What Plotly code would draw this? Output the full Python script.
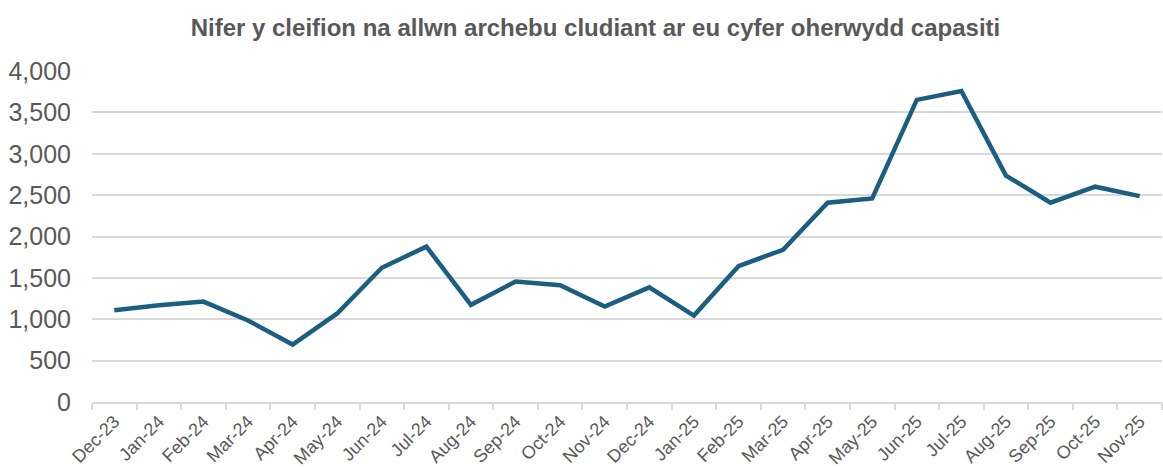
import plotly.graph_objects as go

title = "Nifer y cleifion na allwn archebu cludiant ar eu cyfer oherwydd capasiti"
months = ["Dec-23", "Jan-24", "Feb-24", "Mar-24", "Apr-24", "May-24", "Jun-24", "Jul-24",
          "Aug-24", "Sep-24", "Oct-24", "Nov-24", "Dec-24", "Jan-25", "Feb-25", "Mar-25",
          "Apr-25", "May-25", "Jun-25", "Jul-25", "Aug-25", "Sep-25", "Oct-25", "Nov-25"]
patients = [1110, 1170, 1213, 985, 695, 1070, 1622, 1878,
            1175, 1455, 1410, 1154, 1386, 1045, 1642, 1840,
            2408, 2460, 3651, 3758, 2736, 2408, 2602, 2488]
y_ticks = [0, 500, 1000, 1500, 2000, 2500, 3000, 3500, 4000]

fig = go.Figure(go.Scatter(
    x=months, y=patients, mode="lines",
    line=dict(color="#1B5E80", width=4.5),
    hoverinfo="x+y",
))

fig.update_layout(
    width=1163, height=468,
    margin=dict(l=92, r=1, t=71, b=66),
    paper_bgcolor="white", plot_bgcolor="white",
    font=dict(family="Liberation Sans, Arial, sans-serif", color="#595959", size=21),
    title=dict(text="<b>" + title + "</b>", x=0.512, xanchor="center", y=0.94, yanchor="middle",
               font=dict(size=24, color="#595959")),
    showlegend=False,
)
fig.update_xaxes(
    type="category", tickangle=-45, tickson="boundaries", ticks="outside",
    ticklen=6, tickwidth=2, tickcolor="#D9D9D9",
    showline=True, linecolor="#D9D9D9", linewidth=2,
    showgrid=False, range=[-0.5, 23.5], automargin=False,
    tickfont=dict(size=18, color="#595959"),
)
fig.update_yaxes(
    range=[0, 4000], tickvals=y_ticks, tickformat=",",
    showgrid=True, gridcolor="#D9D9D9", gridwidth=2,
    zeroline=False, showline=False, ticks="", automargin=False,
    ticklabelstandoff=20,
    tickfont=dict(size=25, color="#595959"),
)

fig.write_html("out.html",
               config={"displayModeBar": False},
               post_script="document.body.style.margin='0';document.body.style.overflow='hidden';")
